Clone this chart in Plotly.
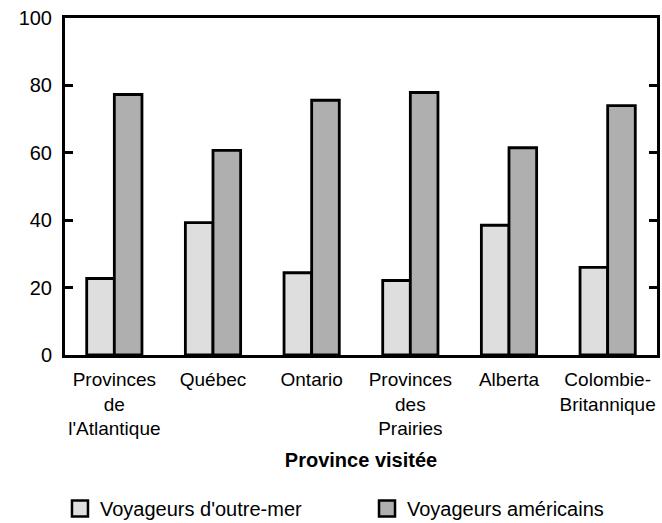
import plotly.graph_objects as go

provinces = ["Provinces<br>de<br>l'Atlantique", "Québec", "Ontario",
             "Provinces<br>des<br>Prairies", "Alberta", "Colombie-<br>Britannique"]
outre_mer = [22.7, 39.3, 24.4, 22.1, 38.5, 26.0]
americains = [77.3, 60.7, 75.6, 77.9, 61.5, 74.0]

LIGHT = "#dedede"
DARK = "#afafaf"
FONT = "Liberation Sans, Arial, sans-serif"

fig = go.Figure()
fig.add_trace(go.Bar(x=provinces, y=outre_mer, name="Voyageurs d'outre-mer",
                     marker=dict(color=LIGHT, line=dict(color="black", width=2.8)),
                     showlegend=False))
fig.add_trace(go.Bar(x=provinces, y=americains, name="Voyageurs américains",
                     marker=dict(color=DARK, line=dict(color="black", width=2.8)),
                     showlegend=False))

# legend entries with bigger boxes, one legend each so they sit where the reference has them
for name, col, leg in [("Voyageurs d'outre-mer", LIGHT, "legend"),
                       ("Voyageurs américains", DARK, "legend2")]:
    fig.add_trace(go.Scatter(x=[None], y=[None], mode="markers", name=name, legend=leg,
                             marker=dict(symbol="square", size=20, color=col,
                                         line=dict(color="black", width=2.5))))

leg_common = dict(orientation="h", xref="container", yref="container", y=0.065,
                  xanchor="left", yanchor="top", itemsizing="trace", font=dict(size=20),
                  bgcolor="rgba(0,0,0,0)")

fig.update_layout(
    width=662, height=523,
    margin=dict(l=65, r=5, t=18, b=168),
    plot_bgcolor="white", paper_bgcolor="white",
    font=dict(family=FONT, size=19, color="black"),
    barmode="group", bargap=0.44, bargroupgap=0,
    legend=dict(x=0.0906, **leg_common),
    legend2=dict(x=0.5544, **leg_common),
)
fig.update_xaxes(showline=True, linecolor="black", linewidth=3, mirror=True,
                 ticks="", showgrid=False, automargin=False, ticklabelstandoff=5,
                 title=dict(text="<b>Province visitée</b>", font=dict(size=20), standoff=15))
fig.update_yaxes(range=[0, 100], dtick=20, showline=True, linecolor="black", linewidth=3,
                 mirror="ticks", ticks="inside", ticklen=8, tickwidth=3, tickcolor="black",
                 showgrid=False, zeroline=False, tickfont=dict(size=20),
                 automargin=False, ticklabelstandoff=6)

fig.write_html("out.html", config={"displayModeBar": False},
               post_script="document.body.style.margin='0';document.body.style.overflow='hidden';")
